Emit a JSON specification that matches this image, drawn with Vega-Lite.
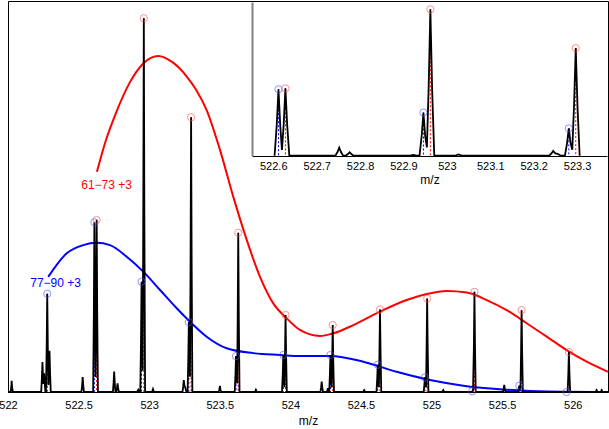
{
"$schema": "https://vega.github.io/schema/vega-lite/v6.json",
"width": 600, "height": 391,
"autosize": {"type": "none"},
"padding": {"left": 8, "top": 1, "right": 1, "bottom": 37},
"background": "white",
"config": {"font": "Liberation Sans", "view": {"stroke": "black", "strokeWidth": 1},
 "axis": {"grid": false, "ticks": false, "labelFontSize": 11, "labelColor": "black", "titleFontSize": 12, "titleFontWeight": "normal", "titleColor": "black", "domainColor": "black", "labelFlush": false, "labelOverlap": false}},
"datasets": {
 "profile": [
  {"mz":522.0,"intensity":0},
  {"mz":522.019,"intensity":0},{"mz":522.023,"intensity":1.4},{"mz":522.026,"intensity":3.0},{"mz":522.029,"intensity":1.4},{"mz":522.034,"intensity":0},
  {"mz":522.235,"intensity":0},{"mz":522.240,"intensity":3.7},{"mz":522.244,"intensity":8},{"mz":522.248,"intensity":3.9},{"mz":522.250,"intensity":2.2},{"mz":522.252,"intensity":2.7},{"mz":522.256,"intensity":5},{"mz":522.260,"intensity":2.3},{"mz":522.265,"intensity":0},
  {"mz":522.269,"intensity":0},{"mz":522.274,"intensity":12.1},{"mz":522.278,"intensity":26.3},{"mz":522.282,"intensity":12.1},{"mz":522.286,"intensity":1.9},{"mz":522.290,"intensity":5.1},{"mz":522.294,"intensity":11},{"mz":522.298,"intensity":5.1},{"mz":522.303,"intensity":0},
  {"mz":522.520,"intensity":0},{"mz":522.525,"intensity":1.8},{"mz":522.529,"intensity":4.0},{"mz":522.533,"intensity":1.8},{"mz":522.538,"intensity":0},
  {"mz":522.603,"intensity":0},{"mz":522.608,"intensity":20.9},{"mz":522.612,"intensity":45.4},{"mz":522.616,"intensity":20.9},{"mz":522.620,"intensity":4.0},{"mz":522.624,"intensity":21.2},{"mz":522.628,"intensity":46.0},{"mz":522.632,"intensity":21.2},{"mz":522.637,"intensity":0},
  {"mz":522.743,"intensity":0},{"mz":522.748,"intensity":2.5},{"mz":522.752,"intensity":5.5},{"mz":522.756,"intensity":2.5},{"mz":522.761,"intensity":0},
  {"mz":522.767,"intensity":0},{"mz":522.772,"intensity":1.1},{"mz":522.776,"intensity":2.3},{"mz":522.780,"intensity":1.1},{"mz":522.785,"intensity":0},
  {"mz":522.915,"intensity":0},{"mz":522.923,"intensity":0.6},{"mz":522.930,"intensity":0},
  {"mz":522.937,"intensity":0},{"mz":522.942,"intensity":13.6},{"mz":522.946,"intensity":29.5},{"mz":522.950,"intensity":13.6},{"mz":522.954,"intensity":5.7},{"mz":522.958,"intensity":46},{"mz":522.962,"intensity":100},{"mz":522.966,"intensity":46},{"mz":522.971,"intensity":0},
  {"mz":523.020,"intensity":0},{"mz":523.027,"intensity":0.8},{"mz":523.034,"intensity":0},
  {"mz":523.236,"intensity":0},{"mz":523.241,"intensity":1.5},{"mz":523.245,"intensity":3.2},{"mz":523.250,"intensity":1.6},{"mz":523.255,"intensity":1.3},{"mz":523.260,"intensity":0.5},{"mz":523.264,"intensity":0},
  {"mz":523.272,"intensity":0},{"mz":523.277,"intensity":8.6},{"mz":523.281,"intensity":18.7},{"mz":523.285,"intensity":8.6},{"mz":523.289,"intensity":4.1},{"mz":523.293,"intensity":33.8},{"mz":523.297,"intensity":73.5},{"mz":523.301,"intensity":33.8},{"mz":523.306,"intensity":0},
  {"mz":523.492,"intensity":0},{"mz":523.497,"intensity":0.7},{"mz":523.501,"intensity":1.6},{"mz":523.505,"intensity":0.7},{"mz":523.510,"intensity":0},
  {"mz":523.606,"intensity":0},{"mz":523.611,"intensity":4.4},{"mz":523.615,"intensity":9.6},{"mz":523.619,"intensity":4.4},{"mz":523.623,"intensity":2.3},{"mz":523.627,"intensity":19.6},{"mz":523.631,"intensity":42.6},{"mz":523.635,"intensity":19.6},{"mz":523.640,"intensity":0},
  {"mz":523.749,"intensity":0},{"mz":523.756,"intensity":0.6},{"mz":523.763,"intensity":0},
  {"mz":523.941,"intensity":0},{"mz":523.946,"intensity":4.6},{"mz":523.950,"intensity":9.9},{"mz":523.954,"intensity":4.6},{"mz":523.958,"intensity":1.3},{"mz":523.962,"intensity":9.5},{"mz":523.966,"intensity":20.6},{"mz":523.970,"intensity":9.5},{"mz":523.975,"intensity":0},
  {"mz":524.213,"intensity":0},{"mz":524.218,"intensity":1.3},{"mz":524.222,"intensity":2.8},{"mz":524.226,"intensity":1.3},{"mz":524.231,"intensity":0},
  {"mz":524.259,"intensity":0},{"mz":524.266,"intensity":1.0},{"mz":524.272,"intensity":0},
  {"mz":524.275,"intensity":0},{"mz":524.280,"intensity":4.6},{"mz":524.284,"intensity":9.9},{"mz":524.288,"intensity":4.6},{"mz":524.292,"intensity":1.2},{"mz":524.296,"intensity":8.2},{"mz":524.300,"intensity":17.9},{"mz":524.304,"intensity":8.2},{"mz":524.309,"intensity":0},
  {"mz":524.516,"intensity":0},{"mz":524.523,"intensity":0.5},{"mz":524.530,"intensity":0},
  {"mz":524.610,"intensity":0},{"mz":524.615,"intensity":3.4},{"mz":524.619,"intensity":7.3},{"mz":524.623,"intensity":3.4},{"mz":524.627,"intensity":1.3},{"mz":524.631,"intensity":10.2},{"mz":524.635,"intensity":22.1},{"mz":524.639,"intensity":10.2},{"mz":524.644,"intensity":0},
  {"mz":524.944,"intensity":0},{"mz":524.949,"intensity":1.8},{"mz":524.953,"intensity":3.9},{"mz":524.957,"intensity":1.8},{"mz":524.961,"intensity":1.3},{"mz":524.965,"intensity":11.5},{"mz":524.969,"intensity":25.0},{"mz":524.973,"intensity":11.5},{"mz":524.978,"intensity":0},
  {"mz":525.076,"intensity":0},{"mz":525.083,"intensity":0.5},{"mz":525.090,"intensity":0},
  {"mz":525.279,"intensity":0},{"mz":525.288,"intensity":0.2},{"mz":525.294,"intensity":0.3},{"mz":525.300,"intensity":12.3},{"mz":525.304,"intensity":26.8},{"mz":525.308,"intensity":12.3},{"mz":525.313,"intensity":0},
  {"mz":525.506,"intensity":0},{"mz":525.511,"intensity":0.9},{"mz":525.515,"intensity":1.9},{"mz":525.519,"intensity":0.9},{"mz":525.524,"intensity":0},
  {"mz":525.613,"intensity":0},{"mz":525.618,"intensity":0.8},{"mz":525.622,"intensity":1.7},{"mz":525.626,"intensity":0.8},{"mz":525.630,"intensity":1.0},{"mz":525.634,"intensity":10.1},{"mz":525.638,"intensity":21.9},{"mz":525.642,"intensity":10.1},{"mz":525.647,"intensity":0},
  {"mz":525.964,"intensity":0},{"mz":525.969,"intensity":4.9},{"mz":525.973,"intensity":10.7},{"mz":525.977,"intensity":4.9},{"mz":525.982,"intensity":0},
  {"mz":526.162,"intensity":0},{"mz":526.169,"intensity":0.5},{"mz":526.176,"intensity":0},
  {"mz":526.198,"intensity":0},{"mz":526.205,"intensity":0.5},{"mz":526.212,"intensity":0},
  {"mz":526.25,"intensity":0}
 ],
 "peaks": [
  {"mz":522.628,"h":46.0,"s":"61−73 +3"},{"mz":522.962,"h":100,"s":"61−73 +3"},{"mz":523.297,"h":73.5,"s":"61−73 +3"},{"mz":523.631,"h":42.6,"s":"61−73 +3"},{"mz":523.966,"h":20.6,"s":"61−73 +3"},{"mz":524.300,"h":17.9,"s":"61−73 +3"},{"mz":524.635,"h":22.1,"s":"61−73 +3"},{"mz":524.969,"h":25.0,"s":"61−73 +3"},{"mz":525.304,"h":26.8,"s":"61−73 +3"},{"mz":525.638,"h":21.9,"s":"61−73 +3"},{"mz":525.973,"h":10.7,"s":"61−73 +3"},
  {"mz":522.278,"h":26.3,"s":"77−90 +3"},{"mz":522.612,"h":45.4,"s":"77−90 +3"},{"mz":522.946,"h":29.5,"s":"77−90 +3"},{"mz":523.281,"h":18.7,"s":"77−90 +3"},{"mz":523.615,"h":9.6,"s":"77−90 +3"},{"mz":523.950,"h":9.9,"s":"77−90 +3"},{"mz":524.284,"h":9.9,"s":"77−90 +3"},{"mz":524.619,"h":7.3,"s":"77−90 +3"},{"mz":524.953,"h":3.9,"s":"77−90 +3"},{"mz":525.288,"h":0.2,"s":"77−90 +3"},{"mz":525.622,"h":1.7,"s":"77−90 +3"},{"mz":525.957,"h":0,"s":"77−90 +3"}
 ],
 "curves": [
  {"mz":522.630,"v":58.9,"s":"61−73 +3"},{"mz":522.694,"v":67.4,"s":"61−73 +3"},{"mz":522.758,"v":74.0,"s":"61−73 +3"},{"mz":522.864,"v":82.9,"s":"61−73 +3"},{"mz":522.958,"v":87.9,"s":"61−73 +3"},{"mz":523.065,"v":89.9,"s":"61−73 +3"},{"mz":523.162,"v":88.3,"s":"61−73 +3"},{"mz":523.266,"v":84.4,"s":"61−73 +3"},{"mz":523.330,"v":81.0,"s":"61−73 +3"},{"mz":523.407,"v":75.4,"s":"61−73 +3"},{"mz":523.502,"v":64.7,"s":"61−73 +3"},{"mz":523.596,"v":52.2,"s":"61−73 +3"},{"mz":523.691,"v":40.7,"s":"61−73 +3"},{"mz":523.785,"v":30.8,"s":"61−73 +3"},{"mz":523.879,"v":23.7,"s":"61−73 +3"},{"mz":523.974,"v":19.7,"s":"61−73 +3"},{"mz":524.068,"v":16.6,"s":"61−73 +3"},{"mz":524.210,"v":15.0,"s":"61−73 +3"},{"mz":524.304,"v":15.7,"s":"61−73 +3"},{"mz":524.446,"v":17.9,"s":"61−73 +3"},{"mz":524.635,"v":21.5,"s":"61−73 +3"},{"mz":524.824,"v":24.6,"s":"61−73 +3"},{"mz":524.966,"v":26.2,"s":"61−73 +3"},{"mz":525.107,"v":27.0,"s":"61−73 +3"},{"mz":525.249,"v":26.6,"s":"61−73 +3"},{"mz":525.391,"v":24.6,"s":"61−73 +3"},{"mz":525.532,"v":21.9,"s":"61−73 +3"},{"mz":525.674,"v":18.4,"s":"61−73 +3"},{"mz":525.816,"v":14.8,"s":"61−73 +3"},{"mz":525.957,"v":11.2,"s":"61−73 +3"},{"mz":526.099,"v":8.1,"s":"61−73 +3"},{"mz":526.25,"v":5.4,"s":"61−73 +3"},
  {"mz":522.285,"v":30.8,"s":"77−90 +3"},{"mz":522.416,"v":37.1,"s":"77−90 +3"},{"mz":522.533,"v":39.3,"s":"77−90 +3"},{"mz":522.628,"v":39.9,"s":"77−90 +3"},{"mz":522.722,"v":39.3,"s":"77−90 +3"},{"mz":522.841,"v":36.2,"s":"77−90 +3"},{"mz":522.958,"v":32.2,"s":"77−90 +3"},{"mz":523.077,"v":27.3,"s":"77−90 +3"},{"mz":523.195,"v":22.4,"s":"77−90 +3"},{"mz":523.289,"v":18.8,"s":"77−90 +3"},{"mz":523.407,"v":14.8,"s":"77−90 +3"},{"mz":523.549,"v":11.7,"s":"77−90 +3"},{"mz":523.738,"v":10.4,"s":"77−90 +3"},{"mz":523.927,"v":9.9,"s":"77−90 +3"},{"mz":524.068,"v":9.6,"s":"77−90 +3"},{"mz":524.281,"v":9.6,"s":"77−90 +3"},{"mz":524.517,"v":8.1,"s":"77−90 +3"},{"mz":524.753,"v":5.4,"s":"77−90 +3"},{"mz":524.989,"v":3.2,"s":"77−90 +3"},{"mz":525.225,"v":1.7,"s":"77−90 +3"},{"mz":525.462,"v":0.8,"s":"77−90 +3"},{"mz":525.697,"v":0.3,"s":"77−90 +3"},{"mz":525.933,"v":0.05,"s":"77−90 +3"},{"mz":526.170,"v":0,"s":"77−90 +3"}
 ],
 "labels": [
  {"mz":522.878,"v":55.4,"s":"61−73 +3"},
  {"mz":522.517,"v":29.2,"s":"77−90 +3"}
 ]
},
"layer": [
 {"layer": [
  {"data": {"name": "curves"}, "mark": {"type": "line", "strokeWidth": 2, "interpolate": "monotone"},
   "encoding": {
    "x": {"field": "mz", "type": "quantitative", "scale": {"domain": [522, 526.25], "nice": false, "zero": false}, "axis": {"values": [522,522.5,523,523.5,524,524.5,525,525.5,526], "format": "~g", "title": "m/z", "labelPadding": 7, "titlePadding": 5}},
    "y": {"field": "v", "type": "quantitative", "scale": {"domain": [0, 104.6], "nice": false}, "axis": null},
    "color": {"field": "s", "type": "nominal", "scale": {"domain": ["61−73 +3","77−90 +3"], "range": ["#ff0000","#0000ff"]}, "legend": null},
    "detail": {"field": "s"}}},
  {"data": {"name": "peaks"}, "mark": {"type": "rule", "strokeWidth": 1, "strokeDash": [2,2]},
   "encoding": {
    "x": {"field": "mz", "type": "quantitative", "scale": {"domain": [522, 526.25], "nice": false, "zero": false}, "axis": {"values": [522,522.5,523,523.5,524,524.5,525,525.5,526], "format": "~g", "title": "m/z", "labelPadding": 7, "titlePadding": 5}},
    "y": {"field": "h", "type": "quantitative", "axis": null},
    "y2": {"datum": 0},
    "color": {"field": "s", "type": "nominal", "legend": null}}},
  {"data": {"name": "profile"}, "mark": {"type": "line", "color": "black", "strokeWidth": 1.8},
   "encoding": {
    "x": {"field": "mz", "type": "quantitative", "scale": {"domain": [522, 526.25], "nice": false, "zero": false}, "axis": {"values": [522,522.5,523,523.5,524,524.5,525,525.5,526], "format": "~g", "title": "m/z", "labelPadding": 7, "titlePadding": 5}},
    "y": {"field": "intensity", "type": "quantitative", "axis": null}}},
  {"data": {"name": "peaks"}, "mark": {"type": "point", "shape": "circle", "filled": false, "size": 52, "strokeWidth": 0.9},
   "encoding": {
    "x": {"field": "mz", "type": "quantitative", "scale": {"domain": [522, 526.25], "nice": false, "zero": false}, "axis": {"values": [522,522.5,523,523.5,524,524.5,525,525.5,526], "format": "~g", "title": "m/z", "labelPadding": 7, "titlePadding": 5}},
    "y": {"field": "h", "type": "quantitative", "axis": null},
    "stroke": {"field": "s", "type": "nominal", "scale": {"domain": ["61−73 +3","77−90 +3"], "range": ["#ff5050","#5050ff"]}, "legend": null}}},
  {"data": {"name": "labels"}, "mark": {"type": "text", "align": "right", "baseline": "middle", "fontSize": 12},
   "encoding": {
    "x": {"field": "mz", "type": "quantitative", "scale": {"domain": [522, 526.25], "nice": false, "zero": false}, "axis": {"values": [522,522.5,523,523.5,524,524.5,525,525.5,526], "format": "~g", "title": "m/z", "labelPadding": 7, "titlePadding": 5}},
    "y": {"field": "v", "type": "quantitative", "axis": null},
    "text": {"field": "s"},
    "color": {"field": "s", "type": "nominal", "legend": null}}}
 ]},
 {"layer": [
  {"data": {"name": "peaks"}, "transform": [{"filter": "datum.mz >= 522.55 && datum.mz <= 523.37"}], "mark": {"type": "rule", "strokeWidth": 1, "strokeDash": [2,2]},
   "encoding": {
    "x": {"field": "mz", "type": "quantitative", "scale": {"domain": [522.551, 523.369], "range": [244, 599], "nice": false, "zero": false}, "axis": {"values": [522.6,522.7,522.8,522.9,523,523.1,523.2,523.3], "format": "~g", "title": "m/z", "orient": "bottom", "offset": -236, "labelPadding": 4, "titlePadding": 3}},
    "y": {"field": "h", "type": "quantitative", "scale": {"domain": [0, 105], "range": [154.7, 1], "nice": false}, "axis": {"orient": "left", "offset": -244, "labels": false, "ticks": false, "title": null, "domainColor": "#808080", "domainWidth": 2}},
    "y2": {"datum": 0},
    "color": {"field": "s", "type": "nominal", "legend": null}}},
  {"data": {"name": "profile"}, "transform": [{"filter": "datum.mz >= 522.55 && datum.mz <= 523.37"}], "mark": {"type": "line", "color": "black", "strokeWidth": 1.8},
   "encoding": {
    "x": {"field": "mz", "type": "quantitative", "scale": {"domain": [522.551, 523.369], "range": [244, 599], "nice": false, "zero": false}, "axis": {"values": [522.6,522.7,522.8,522.9,523,523.1,523.2,523.3], "format": "~g", "title": "m/z", "orient": "bottom", "offset": -236, "labelPadding": 4, "titlePadding": 3}},
    "y": {"field": "intensity", "type": "quantitative", "scale": {"domain": [0, 105], "range": [154.7, 1], "nice": false}, "axis": {"orient": "left", "offset": -244, "labels": false, "ticks": false, "title": null, "domainColor": "#808080", "domainWidth": 2}}}},
  {"data": {"name": "peaks"}, "transform": [{"filter": "datum.mz >= 522.55 && datum.mz <= 523.37"}], "mark": {"type": "point", "shape": "circle", "filled": false, "size": 52, "strokeWidth": 0.9},
   "encoding": {
    "x": {"field": "mz", "type": "quantitative", "scale": {"domain": [522.551, 523.369], "range": [244, 599], "nice": false, "zero": false}, "axis": {"values": [522.6,522.7,522.8,522.9,523,523.1,523.2,523.3], "format": "~g", "title": "m/z", "orient": "bottom", "offset": -236, "labelPadding": 4, "titlePadding": 3}},
    "y": {"field": "h", "type": "quantitative", "scale": {"domain": [0, 105], "range": [154.7, 1], "nice": false}, "axis": {"orient": "left", "offset": -244, "labels": false, "ticks": false, "title": null, "domainColor": "#808080", "domainWidth": 2}},
    "stroke": {"field": "s", "type": "nominal", "legend": null}}}
 ]}
],
"resolve": {"scale": {"x": "independent", "y": "independent"}}
}
